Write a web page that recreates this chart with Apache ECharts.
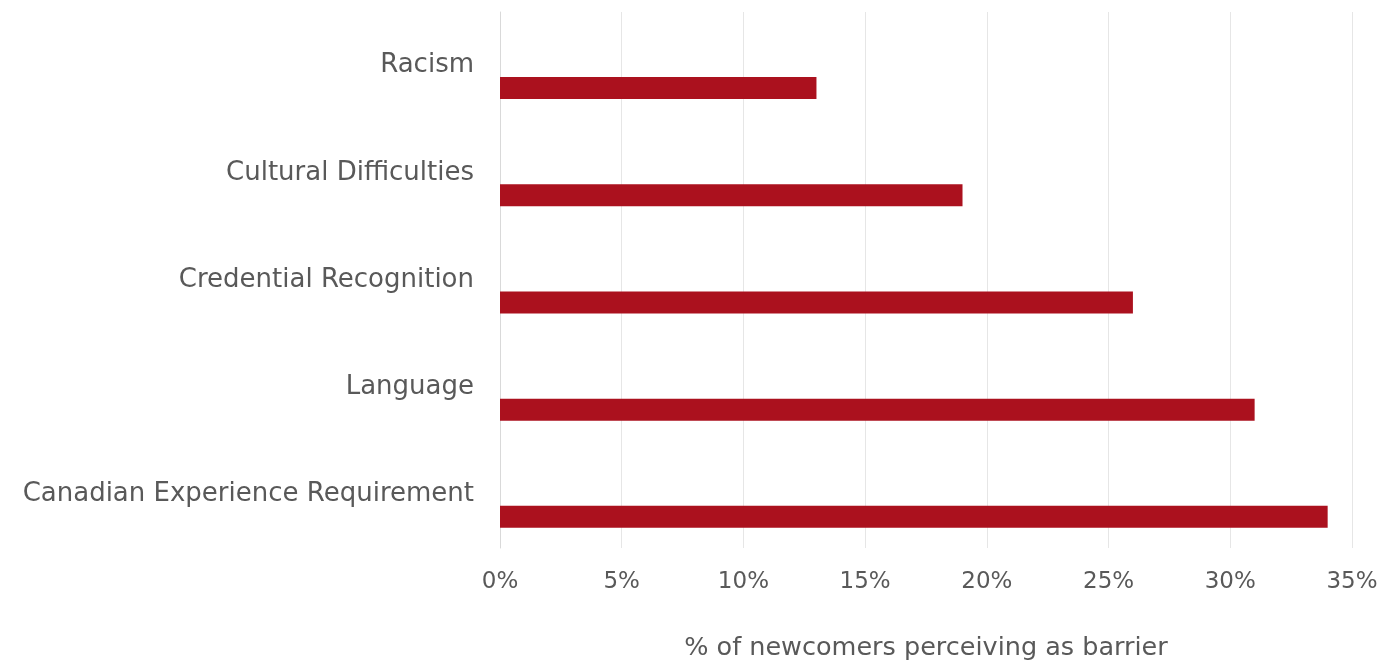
<!DOCTYPE html>
<html>
<head>
    <meta charset="utf-8">
    <title>Barriers perceived by newcomers</title>
    <script src="https://cdn.jsdelivr.net/npm/echarts@6/dist/echarts.min.js"></script>
    <style>
        * {
            margin: 0;
            padding: 0
        }

        html, body {
            width: 100%;
            height: 100%;
            background: #fff;
        }

        #main {
            width: 1393px;
            height: 662px;
        }
    </style>
</head>
<body>
<div id="main"></div>

<script type="text/javascript">
    /*--------------------数据-----------------------------*/
    // top to bottom
    var categories = ['Racism', 'Cultural Difficulties', 'Credential Recognition', 'Language', 'Canadian Experience Requirement'];
    var barrierValues = [13, 19, 26, 31, 34];
    var xTicks = [0, 5, 10, 15, 20, 25, 30, 35];
    var xTitle = '% of newcomers perceiving as barrier';

    var fontName = 'DejaVu Sans';
    var textColor = '#595959';

    var chart = echarts.init(document.getElementById('main'));
    chart.setOption({
        animation: false,
        grid: {
            left: 500,
            right: 41,
            top: 12,
            bottom: 114,
            containLabel: false,
            outerBoundsMode: 'none'
        },
        xAxis: {
            type: 'value',
            min: xTicks[0],
            max: xTicks[xTicks.length - 1],
            interval: 5,
            name: xTitle,
            nameLocation: 'middle',
            nameGap: 87,
            nameTextStyle: {
                fontFamily: fontName,
                fontSize: 25.5,
                color: textColor
            },
            axisLine: {show: false},
            axisTick: {show: false},
            axisLabel: {
                margin: 23,
                fontFamily: fontName,
                fontSize: 23,
                color: textColor,
                formatter: '{value}%'
            },
            splitLine: {
                lineStyle: {color: '#e6e6e6', width: 1}
            }
        },
        yAxis: {
            type: 'category',
            inverse: true,
            data: categories,
            axisLine: {
                show: true,
                lineStyle: {color: '#d9d9d9', width: 1}
            },
            axisTick: {show: false},
            axisLabel: {
                margin: 26,
                fontFamily: fontName,
                fontSize: 26,
                color: textColor
            }
        },
        series: [
            {
                // 占位，让红色条形下移
                name: 'spacer',
                type: 'bar',
                silent: true,
                barWidth: 22,
                barGap: '104%',
                data: barrierValues,
                itemStyle: {color: 'rgba(0,0,0,0)'}
            },
            {
                name: xTitle,
                type: 'bar',
                barWidth: 22,
                data: barrierValues,
                itemStyle: {color: '#ab111e'}
            }
        ]
    });
</script>
</body>
</html>
